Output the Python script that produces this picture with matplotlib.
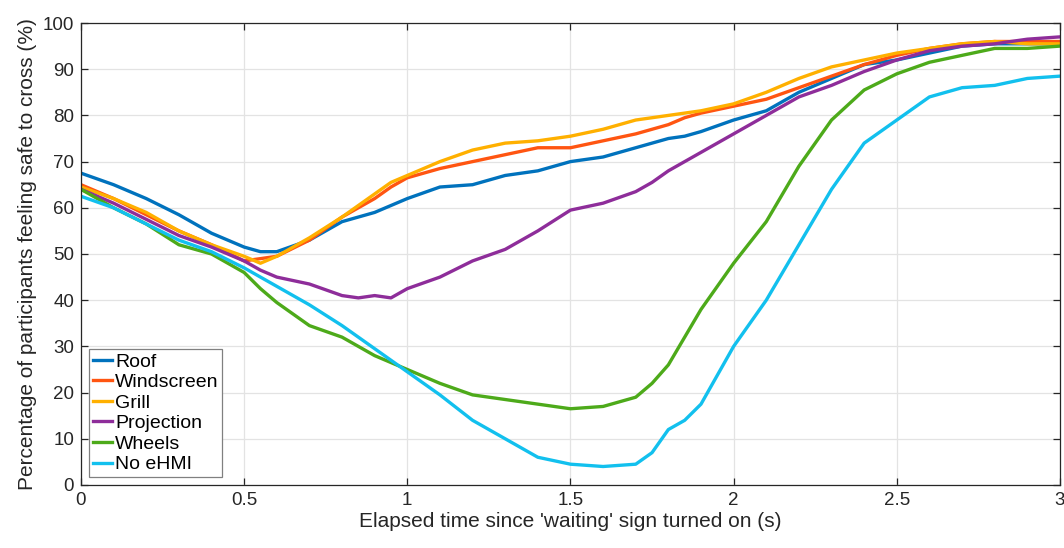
import numpy as np
import matplotlib
matplotlib.use('Agg')
import matplotlib.pyplot as plt

# sample times (s)
t = [0, 0.1, 0.2, 0.3, 0.4, 0.5, 0.55, 0.6, 0.7, 0.8, 0.85, 0.9, 0.95, 1.0,
     1.1, 1.2, 1.3, 1.4, 1.5, 1.6, 1.7, 1.75, 1.8, 1.85, 1.9, 2.0, 2.1, 2.2,
     2.3, 2.4, 2.5, 2.6, 2.7, 2.8, 2.9, 3.0]

roof = [67.5, 65, 62, 58.5, 54.5, 51.5, 50.5, 50.5, 53, 57, 58, 59, 60.5, 62,
        64.5, 65, 67, 68, 70, 71, 73, 74, 75, 75.5, 76.5, 79, 81, 85,
        88, 91, 92, 93.5, 95, 95.5, 95.5, 95.5]
windscreen = [65, 62, 58.5, 55, 52, 48.5, 49, 49.5, 53, 58, 60, 62, 64.5, 66.5,
              68.5, 70, 71.5, 73, 73, 74.5, 76, 77, 78, 79.5, 80.5, 82, 83.5, 86,
              88.5, 91, 93, 94.5, 95.5, 96, 96, 96]
grill = [64.5, 62, 59, 55, 52, 49.5, 48, 49.5, 53.5, 58, 60.5, 63, 65.5, 67,
         70, 72.5, 74, 74.5, 75.5, 77, 79, 79.5, 80, 80.5, 81, 82.5, 85, 88,
         90.5, 92, 93.5, 94.5, 95.5, 96, 95.5, 95.5]
projection = [64, 61, 57.5, 54, 51.5, 48.5, 46.5, 45, 43.5, 41, 40.5, 41, 40.5, 42.5,
              45, 48.5, 51, 55, 59.5, 61, 63.5, 65.5, 68, 70, 72, 76, 80, 84,
              86.5, 89.5, 92, 94, 95, 95.5, 96.5, 97]
wheels = [64, 60, 56.5, 52, 50, 46, 42.5, 39.5, 34.5, 32, 30, 28, 26.5, 25,
          22, 19.5, 18.5, 17.5, 16.5, 17, 19, 22, 26, 32, 38, 48, 57, 69,
          79, 85.5, 89, 91.5, 93, 94.5, 94.5, 95]
no_ehmi = [62.5, 60, 56.5, 53, 50.5, 47, 45, 43, 39, 34.5, 32, 29.5, 27, 24.5,
           19.5, 14, 10, 6, 4.5, 4, 4.5, 7, 12, 14, 17.5, 30, 40, 52,
           64, 74, 79, 84, 86, 86.5, 88, 88.5]

names = ['Roof', 'Windscreen', 'Grill', 'Projection', 'Wheels', 'No eHMI']
colors = ['#0072BD', '#FF5511', '#FFB000', '#8E2D9A', '#4DAA1A', '#12C0EE']

plt.rcParams['font.family'] = ['Liberation Sans', 'DejaVu Sans']

fig = plt.figure(figsize=(10.64, 5.48), dpi=100)
ax = fig.add_axes([0.0761, 0.115, 0.9201, 0.843])

for y, c, n in zip([roof, windscreen, grill, projection, wheels, no_ehmi], colors, names):
    ax.plot(t, y, color=c, lw=2.4, label=n)

ax.set_xlim(0, 3)
ax.set_ylim(0, 100)
ax.set_xticks([0, 0.5, 1, 1.5, 2, 2.5, 3])
ax.set_xticklabels(['0', '0.5', '1', '1.5', '2', '2.5', '3'])
ax.set_yticks(range(0, 101, 10))
ax.grid(True, color='#e3e3e3', lw=0.9)
ax.set_axisbelow(True)
for s in ax.spines.values():
    s.set_color('#262626')
    s.set_linewidth(0.9)
ax.tick_params(direction='in', top=True, right=True, length=5, width=0.9,
               colors='#262626', labelsize=13.5, pad=5)
ax.set_xlabel("Elapsed time since 'waiting' sign turned on (s)", fontsize=15, color='#262626', labelpad=2)
ax.set_ylabel('Percentage of participants feeling safe to cross (%)', fontsize=15, color='#262626', labelpad=4)

leg = ax.legend(loc='lower left', fontsize=14, handlelength=1.0, handletextpad=0.15,
                borderpad=0.2, labelspacing=0.15, borderaxespad=0.4, fancybox=False,
                framealpha=1)
leg.get_frame().set_edgecolor('#808080')
leg.get_frame().set_linewidth(0.9)

fig.savefig('out.png', dpi=100)
